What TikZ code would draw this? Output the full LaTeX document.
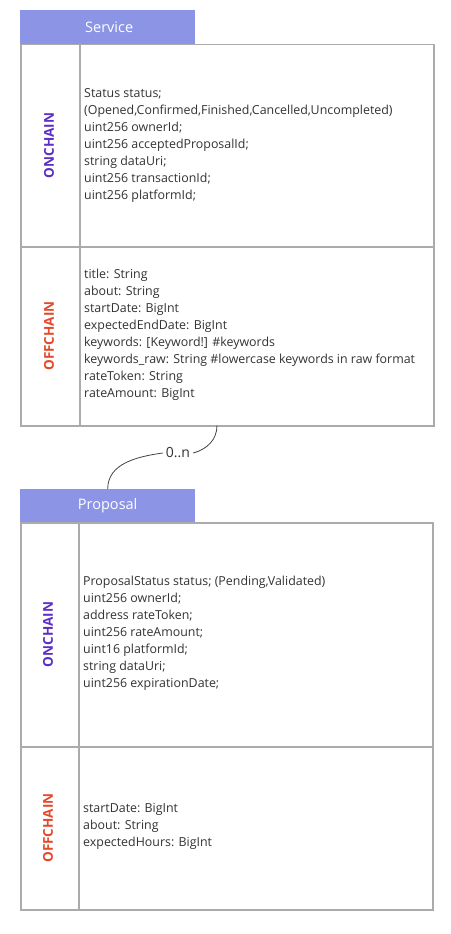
\documentclass[tikz,border=0pt]{standalone}
\usepackage{fontspec}
\setmainfont{Open Sans}
\definecolor{headblue}{HTML}{8C94E6}
\definecolor{gridgrey}{HTML}{ABABAB}
\definecolor{textgrey}{HTML}{333333}
\definecolor{onpurple}{HTML}{5B2EC4}
\definecolor{offred}{HTML}{E3492B}
\definecolor{linegrey}{HTML}{444444}
\begin{document}
\begin{tikzpicture}[x=1pt,y=-1pt,
  cell/.style={draw=gridgrey, line width=1.5pt, inner sep=0pt, anchor=north west},
  divider/.style={draw=gridgrey, line width=1.5pt},
  field/.style={anchor=west, align=left, font=\fontsize{12.4}{17}\selectfont, text=textgrey, inner sep=0pt},
  head/.style={fill=headblue, text=white, font=\fontsize{14.5}{16}\selectfont, minimum width=175pt, minimum height=34pt, anchor=north west, inner sep=0pt},
  onlab/.style={rotate=90, font=\bfseries\fontsize{13.5}{15}\selectfont, text=onpurple, inner sep=0pt},
  offlab/.style={rotate=90, font=\bfseries\fontsize{13.5}{15}\selectfont, text=offred, inner sep=0pt},
  conn/.style={draw=linegrey, line width=0.8pt},
  card/.style={font=\fontsize{14}{16}\selectfont, text=textgrey, inner xsep=3pt, inner ysep=1pt, fill=white}]
\fill[white] (0,0) rectangle (450,934);
\useasboundingbox (0,0) rectangle (450,934);
% ---------- Service ----------
\node[head] (svchead) at (20,10) {\hspace*{3pt}Service};
\node[cell, minimum width=413pt, minimum height=381pt] (svc) at (20,44) {};
\coordinate (svcsplitL) at (20,247);
\coordinate (svcsplitR) at (433,247);
\coordinate (svccolT) at (80,44);
\coordinate (svccolB) at (80,425);
\draw[divider] (svcsplitL) -- (svcsplitR);
\draw[divider] (svccolT) -- (svccolB);
\node[onlab] (svcon) at (49,145.5) {ONCHAIN};
\node[offlab] (svcoff) at (49,336) {OFFCHAIN};
\node[field] (svconf) at (84,145) {Status status;\\(Opened,Confirmed,Finished,Cancelled,Uncompleted)\\uint256 ownerId;\\uint256 acceptedProposalId;\\string dataUri;\\uint256 transactionId;\\uint256 platformId;};
\node[field] (svcofff) at (84,334.5) {title: String\\about: String\\startDate: BigInt\\expectedEndDate: BigInt\\keywords: [Keyword!] \#keywords\\keywords\_raw: String \#lowercase keywords in raw format\\rateToken: String\\rateAmount: BigInt};
% ---------- Proposal ----------
\node[head] (prophead) at (20,489) {Proposal};
\node[cell, minimum width=412pt, minimum height=387pt] (prop) at (20,522) {};
\coordinate (propsplitL) at (20,747);
\coordinate (propsplitR) at (432,747);
\coordinate (propcolT) at (79,522);
\coordinate (propcolB) at (79,909);
\draw[divider] (propsplitL) -- (propsplitR);
\draw[divider] (propcolT) -- (propcolB);
\node[onlab] (propon) at (48,634.5) {ONCHAIN};
\node[offlab] (propoff) at (48,828) {OFFCHAIN};
\node[field] (proponf) at (83,633) {ProposalStatus status; (Pending,Validated)\\uint256 ownerId;\\address rateToken;\\uint256 rateAmount;\\uint16 platformId;\\string dataUri;\\uint256 expirationDate;};
\node[field] (propofff) at (83,826) {startDate: BigInt\\about: String\\expectedHours: BigInt};
% ---------- connector ----------
\coordinate (relstart) at (217,425.5);
\node[card] (rel) at (178,453) {0..n};
\draw[conn] (relstart) to[out=-90,in=15] (rel.east);
\draw[conn] (rel.west) to[out=188,in=90] (prophead.north);
\end{tikzpicture}
\end{document}
